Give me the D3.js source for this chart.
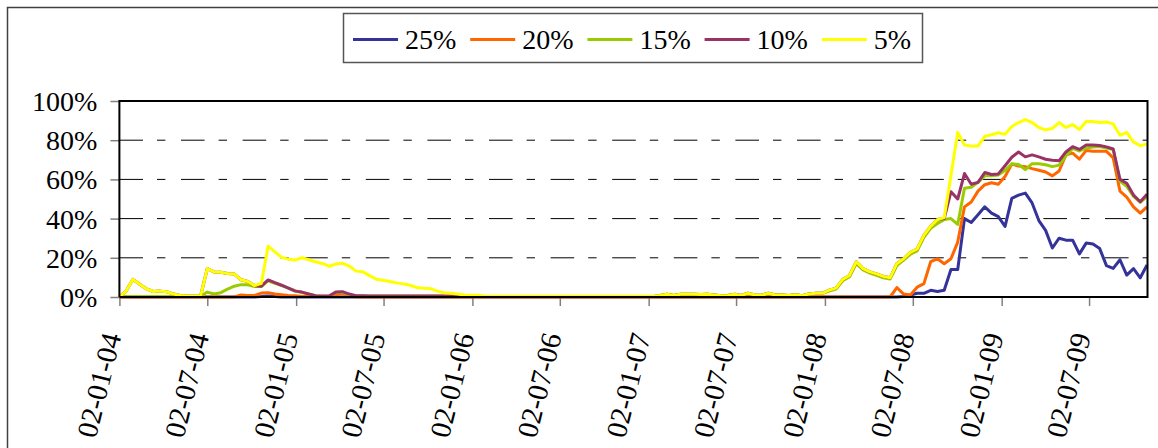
<!DOCTYPE html>
<html>
<head>
<meta charset="utf-8">
<script src="https://cdnjs.cloudflare.com/ajax/libs/d3/7.8.5/d3.min.js"></script>
<style>
body{margin:0;background:#fff;}
text{font-family:"Liberation Serif","Times New Roman",serif;fill:#000;}
</style>
</head>
<body>
<svg id="chart" width="1158" height="448"></svg>
<script>
// fortnightly observations starting 2 Jan 2004
var startDate = "2004-01-02";
var stepDays = 14;

var seriesNames = ["25%", "20%", "15%", "10%", "5%"];
var seriesColors = ["#333399", "#FF6600", "#99CC00", "#993366", "#FFFF00"];

var p25 = [
  0,0,0,0,0,0,0,0,0,0,         // 0-9
  0,0,0,0,0,0,0,0,0,0,         // 10-19
  0,0.2,0.5,0.2,0,0,0,0,0,0,   // 20-29
  0,0,0,0,0,0,0,0,0,0,         // 30-39
  0,0,0,0,0,0,0,0,0,0,         // 40-49
  0,0,0,0,0,0,0,0,0,0,         // 50-59
  0,0,0,0,0,0,0,0,0,0,         // 60-69
  0,0,0,0,0,0,0,0,0,0,         // 70-79
  0,0,0,0,0,0,0,0,0,0,         // 80-89
  0,0,0,0,0,0,0,0,0,0,         // 90-99
  0,0,0,0,0,0,0,0,0,0,         // 100-109
  0,0,0,0,0,0,0.3,1,1.9,1.9,   // 110-119
  3.4,2.8,3.4,14,14,40,38,42,46,42.8,      // 120-129
  41,36,50.3,52,53,48,39,34,25,30,         // 130-139
  29,29,22,27.5,27,24.7,16,14.6,19,11.2,   // 140-149
  14.5,9.8,16.3];

var p20 = [
  0,0,0,0,0,0,0,0,0,0,
  0,0,0,0,0,0,0,0,1,0.8,
  0.8,2,2.2,1.5,1.2,0.8,0.6,0.3,0.3,0.3,
  0.3,0.3,1.2,1.8,0.6,0,0,0,0,0,
  0,0,0,0,0,0,0,0,0,0,
  0,0,0,0,0,0,0,0,0,0,
  0,0,0,0,0,0,0,0,0,0,
  0,0,0,0,0,0,0,0,0,0,
  0,0,0,0,0,0,0,0,0,0,
  0,0,0,0,0,0,0,0,0,0,
  0,0,0,0,0,0,0,0,0,0,
  0,0,0,0,0,4.8,1.5,1,5,6.8,
  18,19.5,17,19.5,28,46,48.5,54,57.3,58.3,
  57.5,61.5,67.8,66.8,66.5,65.5,64.7,63.8,61.8,64.3,
  72.5,73.4,70.3,74.8,74.4,74.3,74.3,71,54,51,
  46,42.8,46];

var p15 = [
  0.2,0.2,0.2,0.2,0.2,0.2,0.2,0.2,0.2,0.2,
  0.2,0.2,0.2,2.5,1.5,2.2,4,5.5,6.3,6.2,
  5.4,5.3,8.3,7,5.8,4.5,3.2,2.3,1.5,0.6,
  0.4,0.4,2.3,2.4,1.2,0.5,0.5,0.5,0.5,0.5,
  0.5,0.5,0.5,0.5,0.5,0.5,0.5,0.5,0.5,0.5,
  0.3,0.3,0.3,0.3,0.3,0.3,0.3,0.3,0.3,0.3,
  0.3,0.3,0.3,0.3,0.3,0.3,0.3,0.3,0.3,0.3,
  0.3,0.3,0.3,0.3,0.3,0.3,0.3,0.3,0.3,0.3,
  0.8,1.4,0.8,1.4,1.4,1.4,1.3,1.4,1.0,0.6,
  0.8,1.4,0.8,1.9,1.0,0.9,1.9,1.0,1.0,0.8,
  1.2,0.7,1.5,1.9,1.9,3,4,8.3,10.3,17,
  13.8,12.2,11,9.8,9.2,16,18.8,21.8,23.5,30.5,
  35,37.5,39.5,40,37,55.5,56,58.5,61.8,61.8,
  62.2,64.5,68,67.6,65,68,68,67.5,66.5,67.3,
  72,75.8,74.5,76,76.5,76.8,76,75.2,59,56.5,
  51.3,48.3,51.2];

var p10 = [
  0,3,9,6.5,4.2,2.8,3.0,2.7,1.5,0.8,
  0.6,0.5,0.5,14.5,12.8,12.6,12,11.7,8.8,7.9,
  5.8,5.5,8.7,7.3,6,4.5,3,2.5,1.5,0.7,
  0.5,0.5,2.5,2.7,1.5,0.7,0.6,0.5,0.5,0.5,
  0.5,0.5,0.5,0.5,0.5,0.5,0.5,0.5,0.5,0.5,
  0.3,0.3,0.3,0.3,0.3,0.3,0.3,0.3,0.3,0.3,
  0.3,0.3,0.3,0.3,0.3,0.3,0.3,0.3,0.3,0.3,
  0.3,0.3,0.3,0.3,0.3,0.3,0.3,0.3,0.3,0.3,
  0.8,1.4,0.8,1.4,1.4,1.4,1.3,1.4,1.0,0.6,
  0.8,1.4,0.8,1.9,1.0,0.9,1.9,1.0,1.0,0.8,
  1.2,0.7,1.5,1.9,1.9,3.5,4.5,9,11,18,
  14.5,12.8,11.8,10.5,9.8,17,19.5,22.8,24.5,31.5,
  36,39.5,40,53.7,50,63,57.5,58.5,63.5,62.5,
  62.8,67,71.3,74,71.5,72.5,71.5,70.3,69.8,69.5,
  74,76.7,75.3,77.6,77.5,77.3,76.6,75.5,60,58,
  52,48.6,52.4];

var p5 = [
  0,3,9,6.5,4.2,2.8,3.0,2.7,1.5,0.8,
  0.6,0.5,0.5,14.5,12.8,12.6,12,11.7,8.8,7.9,
  5.8,7,26,23,20.2,19.3,18.9,20,19,18,
  17.1,15.7,16.8,17.2,15.8,13.2,12.9,10.9,9.1,8.5,
  7.9,7.2,6.7,6,4.8,4.5,4.3,3,2.2,1.9,
  1.5,1,0.9,0.9,0.5,0.4,0.4,0.4,0.4,0.4,
  0.4,0.4,0.4,0.4,0.4,0.4,0.4,0.4,0.4,0.4,
  0.4,0.4,0.4,0.4,0.4,0.4,0.4,0.4,0.4,0.4,
  0.8,1.4,0.8,1.4,1.4,1.4,1.3,1.4,1.0,0.6,
  0.8,1.4,0.8,1.9,1.0,0.9,1.9,1.0,1.0,0.8,
  1.2,0.7,1.5,1.9,1.9,3.5,4.5,9,11,18,
  14.5,12.8,11.8,10.5,9.8,17,19.5,22.8,24.5,31.5,
  36,39.5,40.5,62,84,77.5,77,77,82,82.8,
  83.8,83,87,89,90.5,89,86.5,85.3,86,89,
  86.5,88,85.5,89.5,89.5,89,89.3,88.3,82.5,84,
  79,77.2,78];

var yTicks = [0, 20, 40, 60, 80, 100];
var xTickDates = ["2004-01-02","2004-07-02","2005-01-02","2005-07-02","2006-01-02","2006-07-02",
  "2007-01-02","2007-07-02","2008-01-02","2008-07-02","2009-01-02","2009-07-02"];
var xEnd = "2009-10-31";

(function(){
var parse = d3.timeParse("%Y-%m-%d");
var fmt = d3.timeFormat("%d-%m-%y");
var allSeries = [p25, p20, p15, p10, p5];

var t0 = parse(startDate);
var dates = p5.map(function(d, i){ return d3.timeDay.offset(t0, i*stepDays); });

var svg = d3.select("#chart");
svg.append("rect").attr("width", 1158).attr("height", 448).attr("fill", "#fff");

// outer chart border (right/bottom run off the picture)
svg.append("rect")
  .attr("x", 7.5).attr("y", 7.5).attr("width", 1170).attr("height", 460)
  .attr("fill", "none").attr("stroke", "#404040").attr("stroke-width", 1.5);

var plotL = 119.4, plotR = 1147.5, plotT = 101, plotB = 297;

var x = d3.scaleTime().domain([t0, parse(xEnd)]).range([plotL, plotR]);
var y = d3.scaleLinear().domain([0, 100]).range([plotB, plotT]);

// dash-dot gridlines
svg.append("g").selectAll("line")
  .data(yTicks.filter(function(d){ return d > 0 && d < 100; }))
  .enter().append("line")
  .attr("x1", plotL).attr("x2", plotR)
  .attr("y1", function(d){ return y(d); })
  .attr("y2", function(d){ return y(d); })
  .attr("stroke", "#000").attr("stroke-width", 1)
  .attr("stroke-dasharray", "23.6,14,8.4,15.6");

// y axis
var yAxis = d3.axisLeft(y).tickValues(yTicks).tickSize(9).tickPadding(13)
  .tickFormat(function(d){ return d + "%"; });
var gy = svg.append("g").attr("transform", "translate(" + plotL + ",0)").call(yAxis);
gy.select(".domain").remove();
gy.selectAll(".tick line").attr("stroke", "#808080").attr("stroke-width", 1.5);
gy.selectAll(".tick text").attr("font-size", "28px")
  .attr("font-family", "Liberation Serif, Times New Roman, serif").attr("dy", "0.34em");

// x axis
var xAxis = d3.axisBottom(x).tickValues(xTickDates.map(parse)).tickSize(9).tickFormat("");
var gx = svg.append("g").attr("transform", "translate(0," + plotB + ")").call(xAxis);
gx.select(".domain").remove();
gx.selectAll(".tick line").attr("stroke", "#808080").attr("stroke-width", 1.5);

svg.append("g").selectAll("text")
  .data(xTickDates.map(parse))
  .enter().append("text")
  .attr("transform", function(d){ return "translate(" + (x(d) + 2) + ",336) rotate(-76)"; })
  .attr("text-anchor", "end")
  .attr("font-size", "29px")
  .text(function(d){ return fmt(d); });

// series lines, 25% first so 5% ends up on top
var line = d3.line()
  .x(function(d, i){ return x(dates[i]); })
  .y(function(d){ return y(d); });

svg.append("g").selectAll("path")
  .data(allSeries)
  .enter().append("path")
  .attr("d", line)
  .attr("fill", "none")
  .attr("stroke", function(d, i){ return seriesColors[i]; })
  .attr("stroke-width", 3)
  .attr("stroke-linejoin", "round");

// plot frame
svg.append("path")
  .attr("d", "M" + plotL + "," + plotB + "V" + plotT + "H" + plotR + "V" + plotB + "H" + plotL)
  .attr("fill", "none").attr("stroke", "#000").attr("stroke-width", 2);

// legend
var lg = svg.append("g");
lg.append("rect")
  .attr("x", 343.5).attr("y", 13.5).attr("width", 579).attr("height", 49)
  .attr("fill", "#fff").attr("stroke", "#555").attr("stroke-width", 1.5);
var items = lg.selectAll("g.item")
  .data(seriesNames)
  .enter().append("g")
  .attr("class", "item")
  .attr("transform", function(d, i){ return "translate(" + (353 + i*117.2) + ",0)"; });
items.append("line")
  .attr("x1", 0).attr("x2", 45).attr("y1", 39.5).attr("y2", 39.5)
  .attr("stroke", function(d, i){ return seriesColors[i]; })
  .attr("stroke-width", 3);
items.append("text")
  .attr("x", 52).attr("y", 48.5)
  .attr("font-size", "28px")
  .text(function(d){ return d; });
})();
</script>
</body>
</html>
